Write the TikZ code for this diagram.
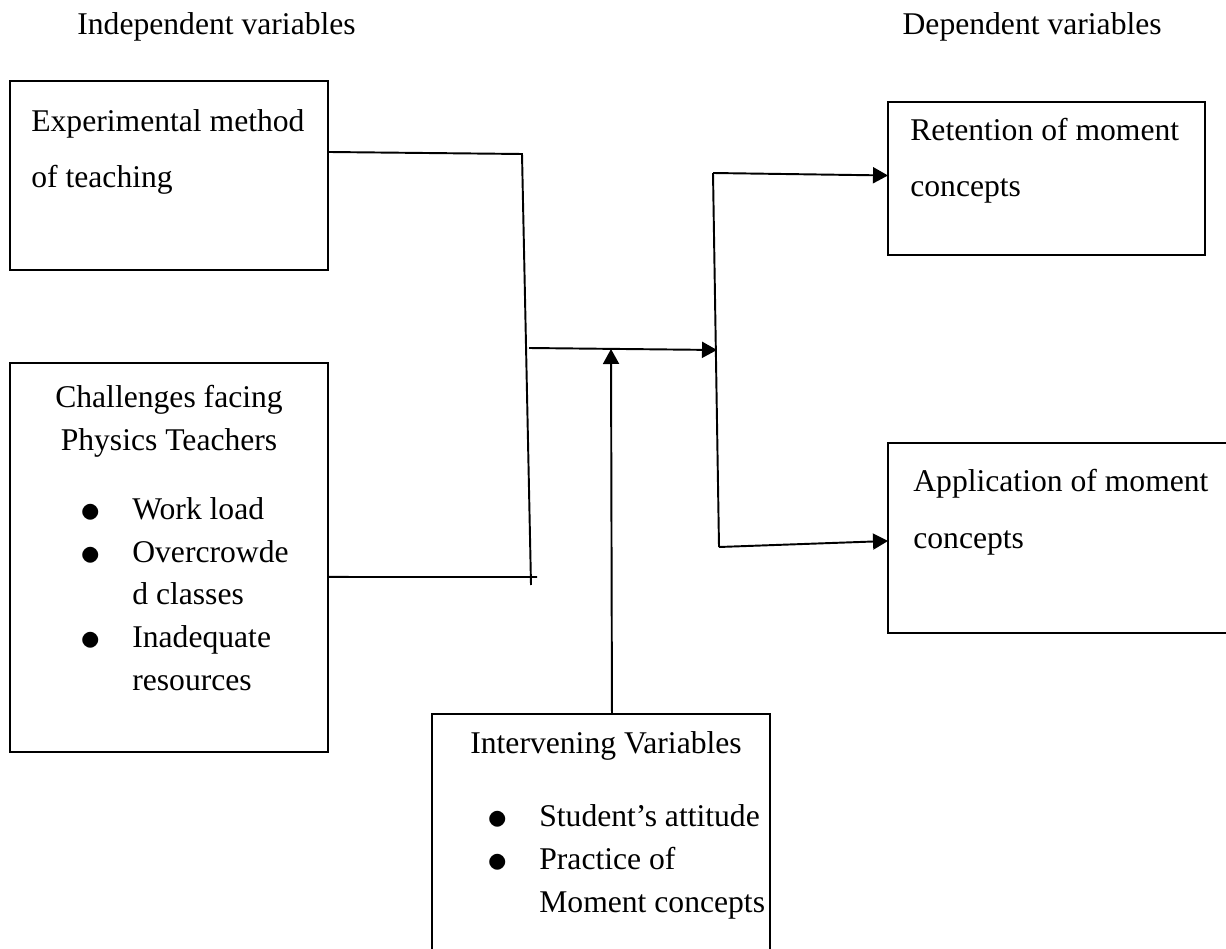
\documentclass[tikz,border=0pt]{standalone}
\usepackage{fontspec}
\setmainfont{Liberation Serif}
\usepackage{graphicx}
\usepackage{tikz}
\usetikzlibrary{arrows.meta,positioning,calc}

\newcommand{\blt}{\makebox[1.04cm][l]{\raisebox{-0.09em}{\scalebox{1.35}{$\bullet$}}}}
\newcommand{\bind}{\hspace*{1.04cm}}

\begin{document}
\begin{tikzpicture}[x=0.02cm, y=-0.02cm,
  box/.style={draw, line width=1.1pt, anchor=north west, inner sep=0pt, outer sep=0pt},
  txt/.style={inner sep=0pt, anchor=base west, align=left, font=\fontsize{18}{32}\selectfont},
  lst/.style={txt, font=\fontsize{18}{24.2}\selectfont},
  ln/.style={line width=1.1pt},
  arr/.style={ln, -{Triangle[length=3mm, width=3.2mm]}}]
\useasboundingbox (0,0) rectangle (1226,949);
\clip (0,0) rectangle (1226,949);

% column headings
\node[txt] (indep) at (77,35) {Independent variables};
\node[txt, anchor=base east] (dep) at (1162,35) {Dependent variables};

% boxes
\node[box, minimum width=6.36cm, minimum height=3.78cm] (exp) at (10,81) {};
\node[box, minimum width=6.36cm, minimum height=7.78cm] (chal) at (10,363) {};
\node[box, minimum width=6.34cm, minimum height=3.06cm] (ret) at (888,102) {};
\node[box, minimum width=7.4cm, minimum height=3.8cm] (app) at (888,443) {};
\node[box, minimum width=6.76cm, minimum height=6cm] (intv) at (432,714) {};

% box texts (placed by the baseline of their last line)
\node[txt] (exp-t) at (31,188) {Experimental method\\of teaching};
\node[lst, align=center, anchor=base] (chal-t) at (169,450) {Challenges facing\\Physics Teachers};
\node[lst] (chal-l) at (80,690) {\blt Work load\\\blt Overcrowde\\\bind d classes\\\blt Inadequate\\\bind resources};
\node[txt] (ret-t) at (910,197) {Retention of moment\\concepts};
\node[txt] (app-t) at (913,548) {Application of moment\\concepts};
\node[txt] (intv-t) at (470,753) {Intervening Variables};
\node[lst] (intv-l) at (487,912) {\blt Student’s attitude\\\blt Practice of\\\bind Moment concepts};

% junction points
\coordinate (ja) at (522,154);
\coordinate (jb) at (531,585);
\coordinate (jc) at (537,577);
\coordinate (jm) at (529,348);
\coordinate (jr) at (717,350);
\coordinate (jup) at (611,349);
\coordinate (rt) at (713,173);
\coordinate (rb) at (719,547);

% connectors
\draw[ln] ([yshift=0.47cm]exp.east) -- (ja) -- (jb);
\draw[ln] ([yshift=-0.39cm]chal.east) -- (jc);
\draw[arr] (jm) -- (jr);
\draw[arr] ([xshift=0.22cm]intv.north) -- (jup);
\draw[ln] (rt) -- (rb);
\draw[arr] (rt) -- ([yshift=0.06cm]ret.west);
\draw[arr] (rb) -- ([yshift=-0.06cm]app.west);
\end{tikzpicture}
\end{document}
